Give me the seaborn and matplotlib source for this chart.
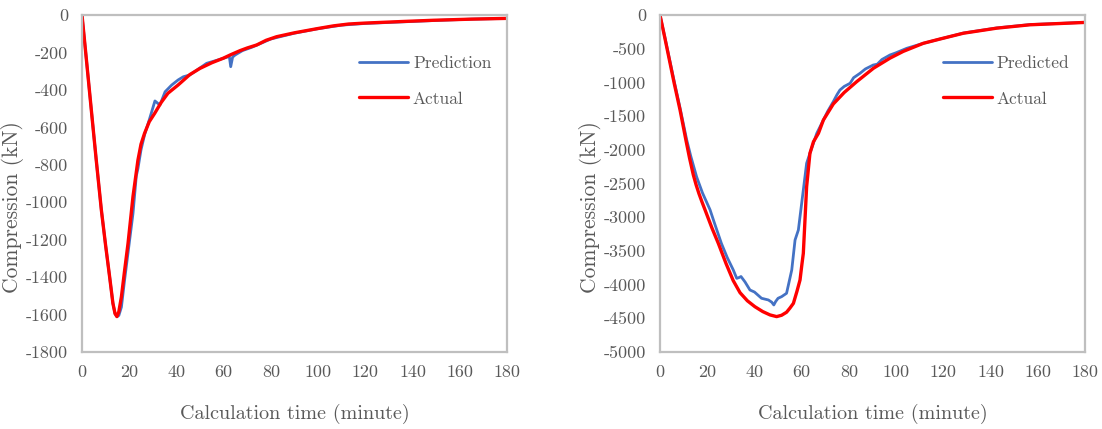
import matplotlib
matplotlib.use("Agg")
import matplotlib.pyplot as plt
import seaborn as sns
import pandas as pd

# Column 1 compression history (kN) vs calculation time (minute)
t_pred_1 = [0, 2, 3.95, 6, 8.2, 10, 11.7, 13.1, 14, 14.8, 15.6, 16.7, 18, 19.5, 21.6, 23, 23.7, 25, 26.5,
            28.5, 30.9, 33, 35.2, 38, 40.7, 42.9, 45.7, 48, 52.8, 58.4, 61.5, 62.4, 63, 63.8, 64.8, 68,
            72, 76, 80, 90, 100, 110, 120, 135, 150, 165, 180]
pred_1 = [0, -255, -507, -770, -1041, -1230, -1398, -1540, -1595, -1611, -1605, -1560, -1420, -1270,
          -1060, -860, -820, -720, -640, -560, -459, -481, -410, -374, -347, -330, -320, -300, -258, -237,
          -225, -220, -276, -225, -214, -190, -172, -150, -128, -97, -73, -54, -45, -37, -29, -22, -18]
t_act_1 = [0, 2, 3.95, 6, 8.2, 10, 11.7, 13.1, 14, 14.8, 15.6, 16.7, 18, 19.5, 21.6, 23.7, 25, 26.5, 28.5,
           30.8, 33.5, 36.4, 40.7, 45.7, 50, 55, 59.8, 63, 67, 70, 74, 78, 82.4, 90, 100, 106.5, 113, 120,
           135, 149, 165, 180]
act_1 = [0, -255, -507, -770, -1041, -1230, -1398, -1540, -1595, -1611, -1585, -1505, -1370, -1220, -970,
         -775, -690, -632, -570, -525, -468, -418, -374, -318, -285, -255, -231, -212, -190, -176, -160,
         -135, -116, -95, -72, -58, -48, -43, -35, -28, -22, -18]

# Column 2 compression history (kN) vs calculation time (minute)
t_pred_2 = [0, 2, 4, 6, 8.5, 11.3, 13, 15.5, 18, 21.2, 23, 26, 28.5, 31, 32.5, 33.5, 34.3,
            36, 38.1, 40, 43, 45.9, 47.3, 48.2, 49, 50, 51.5, 53.6, 55.8, 57.2, 58.6, 60, 62.1, 63.5, 66.4,
            69.2, 71, 73.4, 75, 76.2, 78, 80.5, 82, 84.7, 87, 90.3, 92, 94, 97.4, 100, 104.5, 111.5, 118.6,
            128.5, 142.6, 156.7, 170, 180]
pred_2 = [0, -320, -650, -980, -1380, -1850, -2090, -2400, -2640, -2890, -3080, -3388, -3600,
          -3780, -3907, -3895, -3880, -3960, -4080, -4110, -4203, -4228, -4260, -4302, -4250, -4203, -4179,
          -4129, -3783, -3338, -3190, -2794, -2200, -2052, -1755, -1558, -1430, -1285, -1180, -1113, -1060,
          -1013, -930, -865, -800, -742, -730, -660, -593, -560, -494, -420, -356, -268, -192, -142, -124,
          -108]
t_act_2 = [0, 2, 4, 6, 8.5, 11, 12.5, 14.1, 15.3, 16.5, 17.8, 19.1, 22, 24.7, 28, 31, 33.9, 37, 40.2, 43.5,
           46.6, 49.4, 51.5, 53.6, 55, 56.5, 58, 59.3, 60.1, 60.7, 61.4, 62.1, 63.5, 65, 67.1, 69.2, 73.4,
           78, 83.3, 90.4, 97.4, 103, 111.5, 118.6, 128.5, 142.6, 156.7, 170, 180]
act_2 = [0, -330, -670, -1010, -1410, -1860, -2120, -2370, -2520, -2650, -2775, -2893, -3160, -3388,
         -3690, -3940, -4120, -4240, -4328, -4400, -4450, -4475, -4455, -4410, -4350, -4278, -4100, -3932,
         -3700, -3536, -3042, -2547, -2052, -1880, -1755, -1558, -1320, -1150, -989, -790, -640, -540, -420,
         -356, -270, -195, -145, -125, -110]

x_ticks = list(range(0, 181, 20))
y_ticks_1 = list(range(0, -1801, -200))
y_ticks_2 = list(range(0, -5001, -500))

sns.set_theme(style="white")
plt.rcParams["font.family"] = ["cmr10", "DejaVu Serif"]
plt.rcParams["axes.unicode_minus"] = False
plt.rcParams["mathtext.fontset"] = "cm"

BLUE = "#4472C4"
RED = "#FF0000"
GRAY_TXT = "#595959"
SPINE = "#BFBFBF"

fig = plt.figure(figsize=(11.02, 4.29), dpi=100)
ax1 = fig.add_axes([0.0744, 0.1795, 0.3856, 0.7855])
ax2 = fig.add_axes([0.5989, 0.1795, 0.3857, 0.7855])


def draw(ax, tp, yp, ta, ya, pred_name, yticks, ylim):
    dp = pd.DataFrame({"t": tp, "v": yp})
    da = pd.DataFrame({"t": ta, "v": ya})
    sns.lineplot(data=dp, x="t", y="v", ax=ax, color=BLUE, lw=2.0, label=pred_name)
    sns.lineplot(data=da, x="t", y="v", ax=ax, color=RED, lw=2.4, label="Actual")
    for ln in ax.get_lines():
        ln.set_solid_joinstyle("round")
        ln.set_solid_capstyle("round")
    ax.set_xlim(0, 180)
    ax.set_ylim(ylim, 0)
    ax.set_xticks(x_ticks)
    ax.set_yticks(yticks)
    ax.set_xticklabels([str(v) for v in x_ticks])
    ax.set_yticklabels([str(v) for v in yticks])
    ax.tick_params(axis="both", length=0, labelsize=13, labelcolor=GRAY_TXT)
    ax.tick_params(axis="x", pad=9)
    ax.tick_params(axis="y", pad=10)
    for s in ax.spines.values():
        s.set_visible(True)
        s.set_color(SPINE)
        s.set_linewidth(1.6)
    ax.set_xlabel("Calculation time (minute)", fontsize=14.5, color=GRAY_TXT, labelpad=17)
    ax.set_ylabel("Compression (kN)", fontsize=15.5, color=GRAY_TXT)
    ax.yaxis.set_label_coords(-0.137, 0.43)
    leg = ax.legend(loc="upper right", bbox_to_anchor=(1.0, 0.925), frameon=False,
                    fontsize=12.5, labelspacing=1.15, handlelength=2.8, handletextpad=0.3)
    for txt in leg.get_texts():
        txt.set_color(GRAY_TXT)


draw(ax1, t_pred_1, pred_1, t_act_1, act_1, "Prediction", y_ticks_1, -1800)
draw(ax2, t_pred_2, pred_2, t_act_2, act_2, "Predicted", y_ticks_2, -5000)

fig.savefig("out.png", dpi=100)
